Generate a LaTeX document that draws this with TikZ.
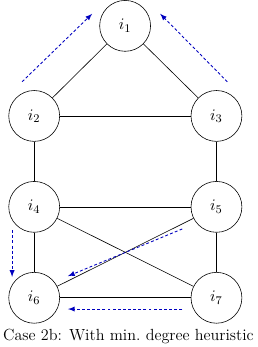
\documentclass[tikz,border=0pt]{standalone}
\usepackage{xcolor}
\usepackage{amsmath}
\usepackage{amssymb}
\usetikzlibrary{positioning}

\begin{document}
\begin{tikzpicture}[node distance=2.18cm, on grid, auto,
    font=\fontsize{11}{13}\selectfont,
    var/.style={circle, draw, minimum size=1.22cm, inner sep=0pt},
    elim/.style={->, >=latex, dash pattern=on 2pt off 1.5pt, blue!75!black, semithick}]
    \useasboundingbox (-3.0,0.62) rectangle (3.17,-7.70);
    \node (i1) [var] {$i_1$};
    \node (i2) [var, below left=2.16cm and 2.18cm of i1] {$i_2$};
    \node (i3) [var, right=4.37cm of i2] {$i_3$};
    \node (i4) [var, below of=i2] {$i_4$};
    \node (i5) [var, below of=i3] {$i_5$};
    \node (i6) [var, below of=i4] {$i_6$};
    \node (i7) [var, below of=i5] {$i_7$};
    \node (caption) at (0.08,-7.44) {Case 2b: With min.\ degree heuristic};

    \draw (i1) -- (i2);
    \draw (i1) -- (i3);
    \draw (i2) -- (i3);
    \draw (i2) -- (i4);
    \draw (i3) -- (i5);
    \draw (i4) -- (i5);
    \draw (i4) -- (i6);
    \draw (i4) -- (i7);
    \draw (i5) -- (i6);
    \draw (i5) -- (i7);
    \draw (i6) -- (i7);

    % elimination order
    \coordinate (s2) at (-2.47,-1.34);
    \coordinate (t2) at (-0.79,0.29);
    \coordinate (s3) at (2.45,-1.34);
    \coordinate (t3) at (0.84,0.29);
    \coordinate (s4) at (-2.71,-4.90);
    \coordinate (t4) at (-2.71,-6.02);
    \coordinate (s5) at (1.37,-4.87);
    \coordinate (t5) at (-1.37,-6.00);
    \coordinate (s7) at (1.37,-6.79);
    \coordinate (t7) at (-1.37,-6.79);
    \draw[elim] (s2) -- (t2);
    \draw[elim] (s3) -- (t3);
    \draw[elim] (s4) -- (t4);
    \draw[elim] (s5) -- (t5);
    \draw[elim] (s7) -- (t7);
\end{tikzpicture}
\end{document}
